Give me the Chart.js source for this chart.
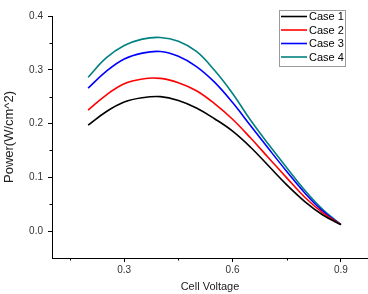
<!DOCTYPE html>
<html>
<head>
<meta charset="utf-8">
<script src="https://cdn.jsdelivr.net/npm/chart.js@4/dist/chart.umd.min.js"></script>
<style>
html,body{margin:0;padding:0;background:#fff;}
#wrap{width:368px;height:294px;position:relative;}
</style>
</head>
<body>
<div id="wrap"><canvas id="c" width="368" height="294"></canvas></div>
<script>
const voltage = [0.20,0.25,0.30,0.35,0.40,0.45,0.50,0.55,0.60,0.65,0.70,0.75,0.80,0.85,0.90];
const case1 = [0.197,0.222,0.240,0.248,0.250,0.243,0.229,0.209,0.186,0.156,0.121,0.086,0.055,0.030,0.012];
const case2 = [0.225,0.253,0.274,0.283,0.284,0.276,0.261,0.237,0.208,0.173,0.136,0.099,0.063,0.034,0.012];
const case3 = [0.266,0.297,0.320,0.331,0.334,0.325,0.306,0.277,0.239,0.196,0.153,0.111,0.071,0.037,0.012];
const case4 = [0.286,0.322,0.345,0.357,0.360,0.353,0.334,0.299,0.256,0.206,0.161,0.118,0.076,0.040,0.012];
const seriesNames = ["Case 1","Case 2","Case 3","Case 4"];
const seriesColors = ["#000000","#ff0000","#0000ff","#008080"];
const xTicks = [0.3,0.6,0.9];
const xMinorTicks = [0.15,0.45,0.75];
const yTicks = [0.0,0.1,0.2,0.3,0.4];
const yMinorTicks = [0.05,0.15,0.25,0.35];

const seriesValues = [case1,case2,case3,case4];
const datasets = seriesValues.map((vals,i)=>({
  label: seriesNames[i],
  data: voltage.map((v,j)=>({x:v,y:vals[j]})),
  borderColor: seriesColors[i],
  backgroundColor: seriesColors[i],
  borderWidth: 1.6,
  pointRadius: 0,
  fill: false,
  tension: 0.4
}));

const FONT = "'Liberation Sans', Arial, sans-serif";

const extras = {
  id: 'extras',
  afterDraw(chart) {
    const ctx = chart.ctx;
    const xs = chart.scales.x, ys = chart.scales.y;
    ctx.save();
    ctx.strokeStyle = '#000';
    ctx.lineWidth = 1;
    xMinorTicks.forEach(v=>{
      const px = Math.round(xs.getPixelForValue(v)) + 0.5;
      ctx.beginPath(); ctx.moveTo(px, ys.bottom); ctx.lineTo(px, ys.bottom + 2.5); ctx.stroke();
    });
    yMinorTicks.forEach(v=>{
      const py = Math.round(ys.getPixelForValue(v)) + 0.5;
      ctx.beginPath(); ctx.moveTo(xs.left, py); ctx.lineTo(xs.left - 2.5, py); ctx.stroke();
    });
    const bx = 279.5, by = 10.5, bw = 66, bh = 56;
    ctx.fillStyle = '#fff';
    ctx.fillRect(bx, by, bw, bh);
    ctx.strokeStyle = '#9a9a9a';
    ctx.strokeRect(bx, by, bw, bh);
    ctx.font = '11px ' + FONT;
    ctx.textBaseline = 'middle';
    ctx.textAlign = 'left';
    chart.data.datasets.forEach((ds,i)=>{
      const y = 16.5 + i*13.5;
      ctx.strokeStyle = ds.borderColor;
      ctx.lineWidth = 1.6;
      ctx.beginPath(); ctx.moveTo(281, y); ctx.lineTo(307, y); ctx.stroke();
      ctx.fillStyle = '#000';
      ctx.fillText(ds.label, 309, y + 0.5);
    });
    ctx.restore();
  }
};

new Chart(document.getElementById('c'), {
  type: 'line',
  data: { datasets },
  options: {
    responsive: false,
    animation: false,
    layout: { padding: { top: 16, right: 0, left: 0, bottom: 0 } },
    plugins: { legend: { display: false }, tooltip: { enabled: false } },
    scales: {
      x: {
        type: 'linear',
        min: 0.1, max: 0.975,
        afterBuildTicks: s => { s.ticks = xTicks.map(v=>({value:v})); },
        afterFit: s => { s.height = 36; },
        ticks: { autoSkip: false, maxRotation: 0, padding: 2, color: '#333',
          font: { family: FONT, size: 10 }, callback: v => Number(v).toFixed(1) },
        grid: { drawOnChartArea: false, drawTicks: true, tickLength: 4, color: '#000' },
        border: { display: true, color: '#000', width: 1 },
        title: { display: true, text: 'Cell Voltage', color: '#222',
          font: { family: FONT, size: 11 }, padding: { top: 0, bottom: 0 } }
      },
      y: {
        type: 'linear',
        min: -0.05, max: 0.4,
        afterBuildTicks: s => { s.ticks = yTicks.map(v=>({value:v})); },
        afterFit: s => { s.width = 52; },
        ticks: { autoSkip: false, padding: 5, color: '#333',
          font: { family: FONT, size: 10 }, callback: v => Number(v).toFixed(1) },
        grid: { drawOnChartArea: false, drawTicks: true, tickLength: 4, color: '#000' },
        border: { display: true, color: '#000', width: 1 },
        title: { display: true, text: 'Power(W/cm^2)', color: '#222',
          font: { family: FONT, size: 13 }, padding: { top: 2, bottom: 0 } }
      }
    }
  },
  plugins: [extras]
});
</script>
</body>
</html>
